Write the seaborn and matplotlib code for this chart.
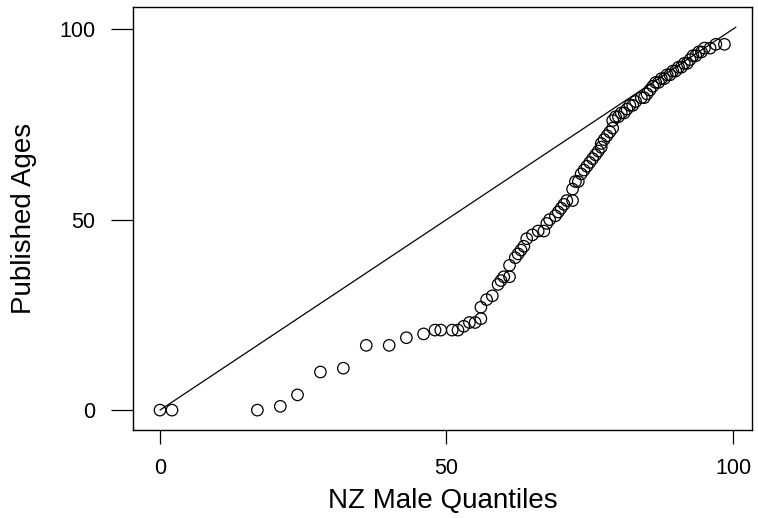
import matplotlib
matplotlib.use("Agg")
import matplotlib.pyplot as plt
import seaborn as sns
import pandas as pd

# QQ plot: published ages vs NZ male age quantiles
nz_male_quantiles = [
    0, 2.1, 17, 21, 24, 28, 32, 36, 40, 43, 46, 48, 49, 51, 52, 53, 54, 55,
    56, 56, 57, 58, 59, 59.5, 60, 61, 61, 62, 62.5, 63, 63.5, 64, 65, 66, 67,
    67.5, 68, 69, 69.5, 70, 70.5, 71, 72, 72, 72.5, 73, 73.5, 74, 74.5, 75,
    75.5, 76, 76.5, 77, 77, 77.5, 78, 78.5, 79, 79, 79.5, 80, 80.5, 81, 81.5,
    82, 82.5, 83, 84, 84.5, 85, 85.5, 86, 86.5, 87, 87.5, 88, 88.5, 89, 89.5,
    90, 90.5, 91, 91.5, 92, 92.5, 93, 93.5, 94, 94.5, 95, 96, 97, 98.5,
]
published_ages = [
    0, 0, 0, 1, 4, 10, 11, 17, 17, 19, 20, 21, 21, 21, 21, 22, 23, 23,
    24, 27, 29, 30, 33, 34, 35, 35, 38, 40, 41, 42, 43, 45, 46, 47, 47,
    49, 50, 51, 52, 53, 54, 55, 55, 58, 60, 60, 62, 63, 64, 65,
    66, 67, 68, 69, 70, 71, 72, 73, 74, 76, 77, 77, 78, 78, 79,
    80, 80, 81, 82, 82, 83, 84, 85, 86, 86, 87, 87, 88, 88, 89,
    89, 90, 90, 91, 91, 92, 93, 93, 94, 94, 95, 95, 96, 96,
]
ref_line_x = [0, 100.5]
ref_line_y = [0, 100.5]

x_ticks = [0, 50, 100]
y_ticks = [0, 50, 100]

df = pd.DataFrame({"q": nz_male_quantiles, "age": published_ages})

sns.set_style("white")
plt.rcParams["font.family"] = ["Liberation Sans", "DejaVu Sans"]
plt.rcParams["text.color"] = "black"
plt.rcParams["axes.labelcolor"] = "black"
plt.rcParams["xtick.color"] = "black"
plt.rcParams["ytick.color"] = "black"

fig = plt.figure(figsize=(7.58, 5.18), dpi=100)
ax = fig.add_axes([0.1755, 0.170, 0.8165, 0.8165])

sns.lineplot(x=ref_line_x, y=ref_line_y, color="black", linewidth=0.9, ax=ax)
sns.scatterplot(data=df, x="q", y="age", marker="o", s=68,
                facecolors="none", edgecolor="black", linewidth=0.9, ax=ax)

ax.set_xlim(-4.7, 103.3)
ax.set_ylim(-5.2, 105.8)
ax.set_xticks(x_ticks)
ax.set_yticks(y_ticks)

for side in ax.spines.values():
    side.set_color("black")
    side.set_linewidth(1.0)

ax.tick_params(axis="x", direction="out", length=10, width=0.9,
               labelsize=15.5, pad=10, bottom=True)
ax.tick_params(axis="y", direction="out", length=16, width=0.9,
               labelsize=15.5, pad=11, left=True)

ax.set_xlabel("NZ Male Quantiles", fontsize=20, labelpad=7)
ax.set_ylabel("Published Ages", fontsize=20, labelpad=16)

fig.savefig("out.png", dpi=100)
